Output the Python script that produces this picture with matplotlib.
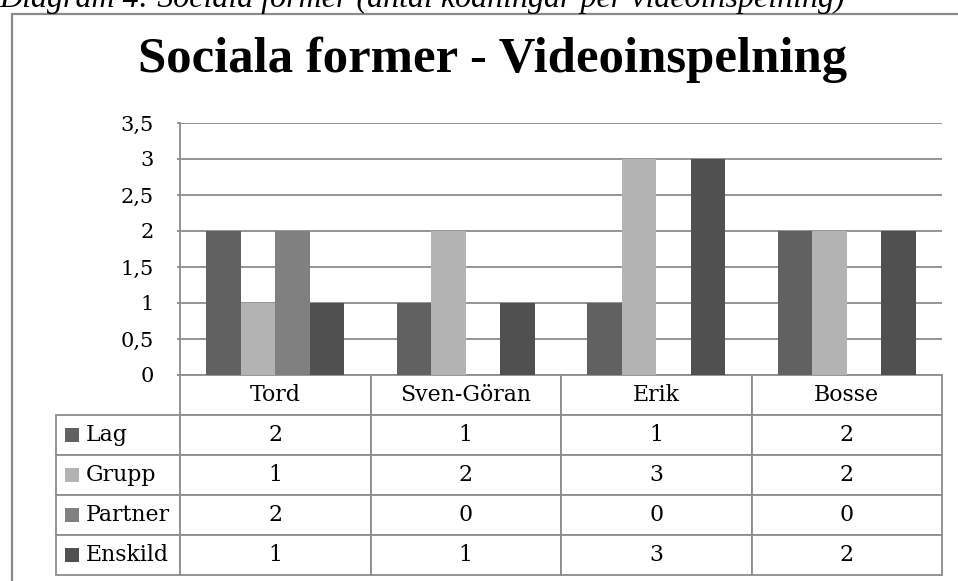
import matplotlib
matplotlib.use("Agg")
import matplotlib.pyplot as plt
from matplotlib.table import Table
from matplotlib.patches import Rectangle
from matplotlib.ticker import FuncFormatter, MultipleLocator

# ---- data ----
categories = ["Tord", "Sven-Göran", "Erik", "Bosse"]
series_names = ["Lag", "Grupp", "Partner", "Enskild"]
lag = [2, 1, 1, 2]
grupp = [1, 2, 3, 2]
partner = [2, 0, 0, 0]
enskild = [1, 1, 3, 2]
series_values = [lag, grupp, partner, enskild]
series_colors = ["#616161", "#b3b3b3", "#808080", "#505050"]

title = "Sociala former - Videoinspelning"
caption = "Diagram 4: Sociala former (antal kodningar per videoinspelning)"

W, H = 958, 581
fig = plt.figure(figsize=(W / 100, H / 100), dpi=100)
fig.patch.set_facecolor("white")

def fx(px):
    return px / W

def fy(py):
    return 1 - py / H

GRID = "#8c8c8c"
SERIF = ["DejaVu Serif"]

# caption (partly cut at the top, as in the reference)
fig.text(fx(-1), fy(7), caption, fontsize=23, style="italic",
         family=["Liberation Serif", "DejaVu Serif"], ha="left", va="baseline")

# outer chart frame
fig.patches.append(Rectangle((fx(12), fy(620)), fx(1000) - fx(12), fy(14) - fy(620),
                             transform=fig.transFigure, fill=False,
                             edgecolor="#8a8a8a", linewidth=1.6))

# title
fig.text(fx(493), fy(72), title, fontsize=36.5, fontweight="bold",
         family=["Liberation Serif", "DejaVu Serif"], ha="center", va="baseline")

# plot area
ax_l, ax_r, ax_t, ax_b = 180, 942, 123, 375
ax = fig.add_axes([fx(ax_l), fy(ax_b), fx(ax_r) - fx(ax_l), fy(ax_t) - fy(ax_b)])
ax.set_xlim(-0.5, len(categories) - 0.5)
ax.set_ylim(0, 3.5)
ax.yaxis.set_major_locator(MultipleLocator(0.5))
ax.yaxis.set_major_formatter(FuncFormatter(lambda v, p: (f"{v:g}").replace(".", ",")))
ax.grid(axis="y", color=GRID, linewidth=1.3)
ax.set_axisbelow(True)
for s in ["top", "right", "bottom"]:
    ax.spines[s].set_visible(False)
ax.spines["left"].set_color(GRID)
ax.spines["left"].set_linewidth(1.3)
ax.set_xticks([])
ax.tick_params(axis="y", length=2, color=GRID, width=1.3, pad=17, labelsize=15)
for lab in ax.get_yticklabels():
    lab.set_family(SERIF)

bw = 0.181
n = len(series_values)
xs = range(len(categories))
for i, (vals, col) in enumerate(zip(series_values, series_colors)):
    off = (i - (n - 1) / 2) * bw
    ax.bar([x + off for x in xs], vals, width=bw, color=col, zorder=3)

# data table below
axh = ax_b - ax_t
axw = ax_r - ax_l
tb_l, tb_r, tb_t, tb_b = 56, 942, 375, 575
x0 = (tb_l - ax_l) / axw
tw = (tb_r - tb_l) / axw
th = (tb_b - tb_t) / axh
y0 = -th
tbl = Table(ax, bbox=[x0, y0, tw, th])
label_w = ax_l - tb_l
col_w = axw / len(categories)
rowh = 40
nrows = len(series_names) + 1
cell_kw = dict(edgecolor=GRID, facecolor="white")
for j, c in enumerate(categories):
    tbl.add_cell(0, j + 1, col_w, rowh, text=c, loc="center", **cell_kw)
for r, (name, vals) in enumerate(zip(series_names, series_values), start=1):
    cell = tbl.add_cell(r, 0, label_w, rowh, text=name, loc="left", **cell_kw)
    cell.PAD = 30 / label_w
    for j, v in enumerate(vals):
        tbl.add_cell(r, j + 1, col_w, rowh, text=str(v), loc="center", **cell_kw)
tbl.auto_set_font_size(False)
tbl.set_fontsize(15.8)
for key, cell in tbl.get_celld().items():
    cell.set_linewidth(1.3)
    cell.get_text().set_family(SERIF)
tbl.set_clip_on(False)
ax.add_table(tbl)

# legend keys inside the label cells
rh_ax = th / nrows
sq = 14
for r, col in enumerate(series_colors, start=1):
    cy = y0 + th - (r + 0.5) * rh_ax
    ax.add_patch(Rectangle(((65 - ax_l) / axw, cy - sq / 2 / axh), sq / axw, sq / axh,
                           transform=ax.transAxes, facecolor=col, edgecolor="none",
                           clip_on=False, zorder=5))

fig.savefig("out.png", dpi=100, facecolor="white")
